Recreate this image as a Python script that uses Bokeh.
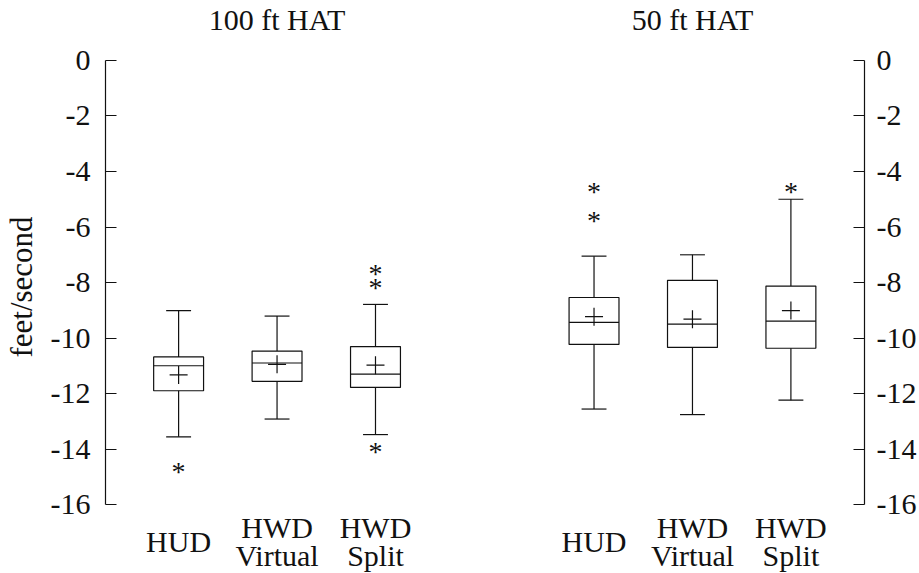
from bokeh.plotting import figure
from bokeh.models import Range1d, LinearAxis, FixedTicker, ColumnDataSource
from bokeh.core.properties import value
from bokeh.embed import file_html
from bokeh.resources import INLINE

# Descent rate at two heights above touchdown, per display type
panels = ["100 ft HAT", "50 ft HAT"]
displays = [["HUD"], ["HWD", "Virtual"], ["HWD", "Split"]]

whisker_hi = [[-9.01, -9.21, -8.79], [-7.05, -7.00, -5.00]]
q3 = [[-10.68, -10.47, -10.31], [-8.54, -7.92, -8.13]]
median = [[-11.00, -10.90, -11.30], [-9.44, -9.50, -9.39]]
q1 = [[-11.90, -11.56, -11.78], [-10.23, -10.34, -10.37]]
whisker_lo = [[-13.56, -12.92, -13.48], [-12.56, -12.76, -12.24]]
mean = [[-11.33, -10.95, -10.98], [-9.23, -9.32, -9.01]]
outliers = [
    [[-14.71], [], [-7.57, -8.07, -13.99]],
    [[-4.62, -5.65], [], [-4.62]],
]
y_ticks = [0, -2, -4, -6, -8, -10, -12, -14, -16]
y_tick_labels = {t: "%d" % t for t in y_ticks}

FONT = "'Liberation Serif', serif"
FS = "30px"
INK = "#111111"
LW = 1.2
group_start = [1.0, 5.22]
box_w = 0.507
cap_w = 0.253

xs, hi, top, med, bot, lo, mu = [], [], [], [], [], [], []
ox, oy = [], []
for g in range(len(panels)):
    for i in range(len(displays)):
        x = group_start[g] + i
        xs.append(x)
        hi.append(whisker_hi[g][i])
        top.append(q3[g][i])
        med.append(median[g][i])
        bot.append(q1[g][i])
        lo.append(whisker_lo[g][i])
        mu.append(mean[g][i])
        for v in outliers[g][i]:
            ox.append(x)
            oy.append(v)

src = ColumnDataSource(dict(
    x=xs, left=[x - box_w / 2 for x in xs], right=[x + box_w / 2 for x in xs],
    cl=[x - cap_w / 2 for x in xs], cr=[x + cap_w / 2 for x in xs],
    hi=hi, top=top, med=med, bot=bot, lo=lo, mu=mu,
))
out_src = ColumnDataSource(dict(x=ox, y=oy, t=["*"] * len(ox)))

# the frame reaches the canvas top and bottom so the panel titles and
# category names can sit in it; the axes are bounded to the 0..-16 span
p = figure(
    width=919, height=573, output_backend="svg", toolbar_location=None,
    x_range=Range1d(0.2573, 7.9676), y_range=Range1d(-18.486, 2.162),
    x_axis_type=None, min_border_left=103, min_border_right=55,
    min_border_top=0, min_border_bottom=0,
)
p.outline_line_color = None
p.grid.visible = False
p.background_fill_color = "white"
p.border_fill_color = "white"


def style_axis(ax, standoff):
    ax.ticker = FixedTicker(ticks=y_ticks)
    ax.bounds = (-16, 0)
    ax.major_label_overrides = y_tick_labels
    ax.minor_tick_line_color = None
    ax.major_tick_in = 11
    ax.major_tick_out = 0
    ax.major_label_standoff = standoff
    ax.axis_line_color = INK
    ax.axis_line_width = LW
    ax.major_tick_line_color = INK
    ax.major_tick_line_width = LW
    ax.major_label_text_font = FONT
    ax.major_label_text_font_size = FS
    ax.major_label_text_color = INK


left_ax = p.yaxis[0]
style_axis(left_ax, 15)
left_ax.axis_label = "feet/second"
left_ax.axis_label_text_font = FONT
left_ax.axis_label_text_font_size = "31px"
left_ax.axis_label_text_font_style = "normal"
left_ax.axis_label_text_color = INK
left_ax.axis_label_standoff = 9

right_ax = LinearAxis()
style_axis(right_ax, 12)
p.add_layout(right_ax, "right")

# boxes, medians, whiskers and caps
p.quad(left="left", right="right", top="top", bottom="bot", source=src,
       fill_color=None, line_color=INK, line_width=LW)
p.segment(x0="left", x1="right", y0="med", y1="med", source=src, line_color=INK, line_width=LW)
p.segment(x0="x", x1="x", y0="top", y1="hi", source=src, line_color=INK, line_width=LW)
p.segment(x0="x", x1="x", y0="bot", y1="lo", source=src, line_color=INK, line_width=LW)
p.segment(x0="cl", x1="cr", y0="hi", y1="hi", source=src, line_color=INK, line_width=LW)
p.segment(x0="cl", x1="cr", y0="lo", y1="lo", source=src, line_color=INK, line_width=LW)

# means
p.scatter(x="x", y="mu", source=src, marker="cross", size=18, line_color=INK, line_width=LW)

# outliers
p.text(x="x", y="y", text="t", source=out_src, text_font=value(FONT), text_font_size="28px",
       text_align="center", text_baseline="middle", y_offset=3, text_color=INK)

# panel titles above each group
title_src = ColumnDataSource(dict(
    x=[s + 1 for s in group_start], y=[0] * len(panels), t=panels,
))
p.text(x="x", y="y", text="t", source=title_src, text_font=value(FONT), text_font_size=FS,
       text_align="center", text_baseline="alphabetic", y_offset=-41, text_color=INK)

# category names beneath each box
lx, ly, lt, loff = [], [], [], []
for g in range(len(panels)):
    for i, lines in enumerate(displays):
        offsets = [36.7] if len(lines) == 1 else [23.3, 50.7]
        for line, off in zip(lines, offsets):
            lx.append(group_start[g] + i)
            ly.append(-16)
            lt.append(line)
            loff.append(off)
cat_src = ColumnDataSource(dict(x=lx, y=ly, t=lt, off=loff))
p.text(x="x", y="y", text="t", source=cat_src, text_font=value(FONT), text_font_size=FS,
       text_align="center", text_baseline="alphabetic", y_offset="off", text_color=INK)

open("out.html", "w").write(file_html(p, INLINE))
